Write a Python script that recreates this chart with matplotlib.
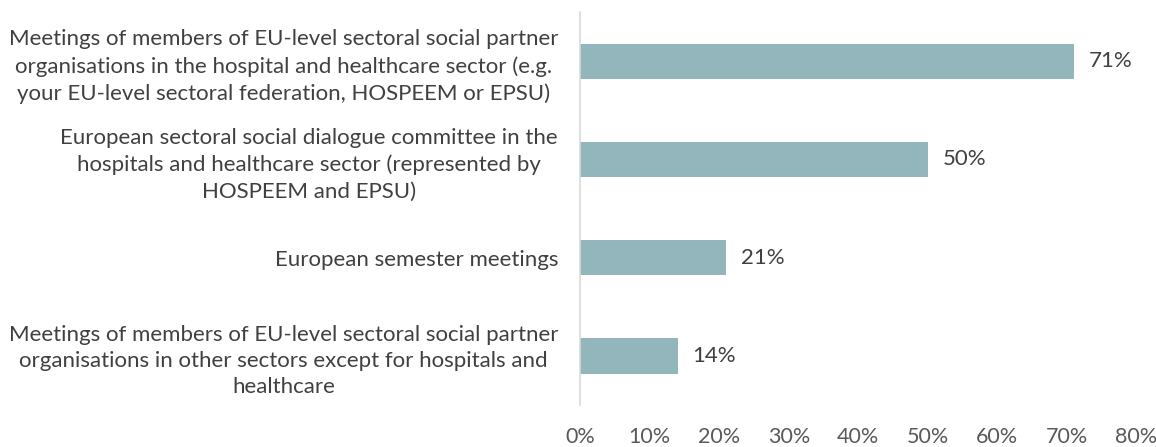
import numpy as np
import matplotlib.pyplot as plt

# data
categories = [
    "Meetings of members of EU-level sectoral social partner\norganisations in the hospital and healthcare sector (e.g.\nyour EU-level sectoral federation, HOSPEEM or EPSU)",
    "European sectoral social dialogue committee in the\nhospitals and healthcare sector (represented by\nHOSPEEM and EPSU)",
    "European semester meetings",
    "Meetings of members of EU-level sectoral social partner\norganisations in other sectors except for hospitals and\nhealthcare",
]
values = [0.71, 0.50, 0.21, 0.14]
xticks = [0.0, 0.1, 0.2, 0.3, 0.4, 0.5, 0.6, 0.7, 0.8]

plt.rcParams['font.family'] = ['Lato', 'DejaVu Sans']
bar_color = '#93B6BD'
text_color = '#404040'

fig = plt.figure(figsize=(11.56, 4.47), dpi=100)
ax = fig.add_axes([0.502, 0.094, 0.481, 0.879])

ys = np.arange(len(categories))
ax.barh(ys, values, height=0.36, color=bar_color)
for y, v in zip(ys, values):
    ax.text(v + 0.021, y, f"{v:.0%}", va='center', ha='left',
            fontsize=16, color=text_color)

ax.set_xlim(0, 0.8)
ax.set_ylim(len(categories) - 0.5, -0.5)
ax.set_yticks(ys)
ax.set_yticklabels(categories, fontsize=16, color=text_color,
                   multialignment='center', linespacing=1.4)
ax.set_xticks(xticks)
ax.set_xticklabels([f"{t:.0%}" for t in xticks], fontsize=15.5, color='#595959')
ax.tick_params(axis='y', length=0, pad=16)
ax.tick_params(axis='x', length=0, pad=16)

for s in ['top', 'right', 'bottom']:
    ax.spines[s].set_visible(False)
ax.spines['left'].set_color('#D9D9D9')
ax.spines['left'].set_linewidth(1.2)

fig.savefig('out.png', dpi=100)
